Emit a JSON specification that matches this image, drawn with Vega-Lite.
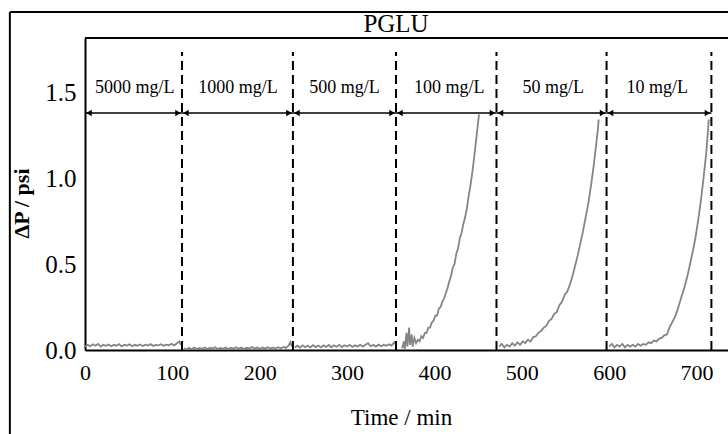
{
  "$schema": "https://vega.github.io/schema/vega-lite/v6.json",
  "width": 643,
  "height": 312,
  "autosize": "none",
  "padding": {"left": 85, "top": 38, "right": 0, "bottom": 84},
  "background": "white",
  "config": {
    "view": {"stroke": null},
    "font": "Liberation Serif",
    "axisX": {"domainColor": "black", "domainWidth": 2, "ticks": false, "grid": false, "labelFont": "Liberation Serif", "labelFontSize": 22, "labelColor": "black", "labelPadding": 12, "labelFlush": false, "titleFont": "Liberation Serif", "titleFontSize": 23, "titleFontWeight": "normal", "titleColor": "black", "titleX": 316, "titleY": 74, "titleBaseline": "alphabetic", "titleAnchor": null},
    "axisY": {"domainColor": "black", "domainWidth": 2, "ticks": false, "grid": false, "labelFont": "Liberation Serif", "labelFontSize": 25, "labelColor": "black", "labelPadding": 9, "labelFlush": false, "titleFont": "Liberation Serif", "titleFontSize": 22, "titleFontWeight": "bold", "titleColor": "black", "titleX": -57, "titleY": 165, "titleAngle": 270, "titleAlign": "center", "titleBaseline": "alphabetic"}
  },
  "datasets": {
    "trace": [
      {"s":1,"t":0,"p":0.02},{"s":1,"t":3,"p":0.03},{"s":1,"t":6,"p":0.022},{"s":1,"t":9,"p":0.033},{"s":1,"t":12,"p":0.025},{"s":1,"t":15,"p":0.035},{"s":1,"t":18,"p":0.02},{"s":1,"t":21,"p":0.03},{"s":1,"t":24,"p":0.024},{"s":1,"t":27,"p":0.032},{"s":1,"t":30,"p":0.022},{"s":1,"t":33,"p":0.03},{"s":1,"t":36,"p":0.025},{"s":1,"t":39,"p":0.034},{"s":1,"t":42,"p":0.021},{"s":1,"t":45,"p":0.03},{"s":1,"t":48,"p":0.026},{"s":1,"t":51,"p":0.033},{"s":1,"t":54,"p":0.022},{"s":1,"t":57,"p":0.03},{"s":1,"t":60,"p":0.025},{"s":1,"t":63,"p":0.032},{"s":1,"t":66,"p":0.023},{"s":1,"t":69,"p":0.031},{"s":1,"t":72,"p":0.026},{"s":1,"t":75,"p":0.034},{"s":1,"t":78,"p":0.024},{"s":1,"t":81,"p":0.03},{"s":1,"t":84,"p":0.027},{"s":1,"t":87,"p":0.034},{"s":1,"t":90,"p":0.025},{"s":1,"t":93,"p":0.031},{"s":1,"t":96,"p":0.028},{"s":1,"t":99,"p":0.036},{"s":1,"t":102,"p":0.027},{"s":1,"t":105,"p":0.038},{"s":1,"t":108,"p":0.05},{"s":1,"t":110,"p":0.03},
      {"s":2,"t":113,"p":0.01},{"s":2,"t":116,"p":0.004},{"s":2,"t":119,"p":0.012},{"s":2,"t":122,"p":0.006},{"s":2,"t":125,"p":0.014},{"s":2,"t":128,"p":0.005},{"s":2,"t":131,"p":0.012},{"s":2,"t":134,"p":0.007},{"s":2,"t":137,"p":0.015},{"s":2,"t":140,"p":0.006},{"s":2,"t":143,"p":0.013},{"s":2,"t":146,"p":0.008},{"s":2,"t":149,"p":0.016},{"s":2,"t":152,"p":0.006},{"s":2,"t":155,"p":0.012},{"s":2,"t":158,"p":0.007},{"s":2,"t":161,"p":0.015},{"s":2,"t":164,"p":0.006},{"s":2,"t":167,"p":0.013},{"s":2,"t":170,"p":0.008},{"s":2,"t":173,"p":0.016},{"s":2,"t":176,"p":0.007},{"s":2,"t":179,"p":0.014},{"s":2,"t":182,"p":0.006},{"s":2,"t":185,"p":0.013},{"s":2,"t":188,"p":0.009},{"s":2,"t":191,"p":0.017},{"s":2,"t":194,"p":0.008},{"s":2,"t":197,"p":0.014},{"s":2,"t":200,"p":0.007},{"s":2,"t":203,"p":0.015},{"s":2,"t":206,"p":0.008},{"s":2,"t":209,"p":0.016},{"s":2,"t":212,"p":0.009},{"s":2,"t":215,"p":0.014},{"s":2,"t":218,"p":0.008},{"s":2,"t":221,"p":0.016},{"s":2,"t":224,"p":0.01},{"s":2,"t":227,"p":0.018},{"s":2,"t":230,"p":0.012},{"s":2,"t":233,"p":0.025},{"s":2,"t":235,"p":0.045},{"s":2,"t":237,"p":0.02},
      {"s":3,"t":240,"p":0.015},{"s":3,"t":243,"p":0.025},{"s":3,"t":246,"p":0.014},{"s":3,"t":249,"p":0.027},{"s":3,"t":252,"p":0.016},{"s":3,"t":255,"p":0.026},{"s":3,"t":258,"p":0.015},{"s":3,"t":261,"p":0.028},{"s":3,"t":264,"p":0.017},{"s":3,"t":267,"p":0.026},{"s":3,"t":270,"p":0.015},{"s":3,"t":273,"p":0.027},{"s":3,"t":276,"p":0.018},{"s":3,"t":279,"p":0.029},{"s":3,"t":282,"p":0.016},{"s":3,"t":285,"p":0.027},{"s":3,"t":288,"p":0.019},{"s":3,"t":291,"p":0.03},{"s":3,"t":294,"p":0.017},{"s":3,"t":297,"p":0.028},{"s":3,"t":300,"p":0.02},{"s":3,"t":303,"p":0.03},{"s":3,"t":306,"p":0.018},{"s":3,"t":309,"p":0.027},{"s":3,"t":312,"p":0.021},{"s":3,"t":315,"p":0.03},{"s":3,"t":318,"p":0.02},{"s":3,"t":321,"p":0.031},{"s":3,"t":324,"p":0.04},{"s":3,"t":327,"p":0.022},{"s":3,"t":330,"p":0.03},{"s":3,"t":333,"p":0.02},{"s":3,"t":336,"p":0.031},{"s":3,"t":339,"p":0.022},{"s":3,"t":342,"p":0.03},{"s":3,"t":345,"p":0.024},{"s":3,"t":348,"p":0.033},{"s":3,"t":351,"p":0.026},{"s":3,"t":354,"p":0.045},{"s":3,"t":356,"p":0.03},
      {"s":4,"t":363,"p":0.01},{"s":4,"t":365,"p":0.05},{"s":4,"t":366,"p":0.0},{"s":4,"t":368,"p":0.1},{"s":4,"t":369,"p":0.02},{"s":4,"t":371,"p":0.13},{"s":4,"t":372,"p":0.03},{"s":4,"t":374,"p":0.09},{"s":4,"t":375,"p":0.02},{"s":4,"t":377,"p":0.07},{"s":4,"t":379,"p":0.04},{"s":4,"t":381,"p":0.06},{"s":4,"t":383,"p":0.05},{"s":4,"t":385,"p":0.08},{"s":4,"t":387,"p":0.07},{"s":4,"t":389,"p":0.1},{"s":4,"t":391,"p":0.1},{"s":4,"t":393,"p":0.13},{"s":4,"t":395,"p":0.13},{"s":4,"t":397,"p":0.16},{"s":4,"t":399,"p":0.17},{"s":4,"t":401,"p":0.2},{"s":4,"t":403,"p":0.2},{"s":4,"t":405,"p":0.24},{"s":4,"t":407,"p":0.25},{"s":4,"t":409,"p":0.28},{"s":4,"t":411,"p":0.3},{"s":4,"t":413,"p":0.33},{"s":4,"t":415,"p":0.36},{"s":4,"t":417,"p":0.4},{"s":4,"t":419,"p":0.43},{"s":4,"t":421,"p":0.48},{"s":4,"t":423,"p":0.5},{"s":4,"t":425,"p":0.56},{"s":4,"t":427,"p":0.59},{"s":4,"t":429,"p":0.65},{"s":4,"t":431,"p":0.68},{"s":4,"t":433,"p":0.73},{"s":4,"t":435,"p":0.77},{"s":4,"t":437,"p":0.82},{"s":4,"t":439,"p":0.89},{"s":4,"t":441,"p":0.95},{"s":4,"t":443,"p":1.02},{"s":4,"t":445,"p":1.1},{"s":4,"t":447,"p":1.19},{"s":4,"t":449,"p":1.28},{"s":4,"t":451,"p":1.37},
      {"s":5,"t":474,"p":0.02},{"s":5,"t":477,"p":0.035},{"s":5,"t":480,"p":0.015},{"s":5,"t":483,"p":0.03},{"s":5,"t":486,"p":0.02},{"s":5,"t":489,"p":0.04},{"s":5,"t":492,"p":0.025},{"s":5,"t":495,"p":0.045},{"s":5,"t":498,"p":0.03},{"s":5,"t":501,"p":0.05},{"s":5,"t":504,"p":0.04},{"s":5,"t":507,"p":0.06},{"s":5,"t":510,"p":0.05},{"s":5,"t":513,"p":0.075},{"s":5,"t":516,"p":0.08},{"s":5,"t":519,"p":0.1},{"s":5,"t":522,"p":0.11},{"s":5,"t":525,"p":0.13},{"s":5,"t":528,"p":0.14},{"s":5,"t":531,"p":0.17},{"s":5,"t":534,"p":0.18},{"s":5,"t":537,"p":0.21},{"s":5,"t":540,"p":0.22},{"s":5,"t":543,"p":0.26},{"s":5,"t":546,"p":0.28},{"s":5,"t":549,"p":0.32},{"s":5,"t":552,"p":0.34},{"s":5,"t":555,"p":0.38},{"s":5,"t":558,"p":0.43},{"s":5,"t":561,"p":0.49},{"s":5,"t":564,"p":0.55},{"s":5,"t":567,"p":0.62},{"s":5,"t":570,"p":0.69},{"s":5,"t":573,"p":0.77},{"s":5,"t":576,"p":0.85},{"s":5,"t":579,"p":0.95},{"s":5,"t":582,"p":1.06},{"s":5,"t":585,"p":1.19},{"s":5,"t":587,"p":1.28},{"s":5,"t":588,"p":1.34},
      {"s":6,"t":600,"p":0.02},{"s":6,"t":603,"p":0.035},{"s":6,"t":606,"p":0.015},{"s":6,"t":609,"p":0.03},{"s":6,"t":612,"p":0.02},{"s":6,"t":615,"p":0.035},{"s":6,"t":618,"p":0.015},{"s":6,"t":621,"p":0.03},{"s":6,"t":624,"p":0.02},{"s":6,"t":627,"p":0.03},{"s":6,"t":630,"p":0.02},{"s":6,"t":633,"p":0.035},{"s":6,"t":636,"p":0.025},{"s":6,"t":639,"p":0.035},{"s":6,"t":642,"p":0.03},{"s":6,"t":645,"p":0.045},{"s":6,"t":648,"p":0.04},{"s":6,"t":651,"p":0.055},{"s":6,"t":654,"p":0.05},{"s":6,"t":657,"p":0.065},{"s":6,"t":660,"p":0.07},{"s":6,"t":663,"p":0.085},{"s":6,"t":666,"p":0.09},{"s":6,"t":669,"p":0.13},{"s":6,"t":672,"p":0.16},{"s":6,"t":675,"p":0.19},{"s":6,"t":678,"p":0.23},{"s":6,"t":681,"p":0.28},{"s":6,"t":684,"p":0.33},{"s":6,"t":687,"p":0.38},{"s":6,"t":690,"p":0.44},{"s":6,"t":693,"p":0.51},{"s":6,"t":696,"p":0.58},{"s":6,"t":699,"p":0.66},{"s":6,"t":702,"p":0.76},{"s":6,"t":705,"p":0.87},{"s":6,"t":708,"p":1.0},{"s":6,"t":711,"p":1.14},{"s":6,"t":713,"p":1.27},{"s":6,"t":714,"p":1.34}
    ],
    "bounds": [{"t":111},{"t":238},{"t":356},{"t":471},{"t":597},{"t":717}],
    "seg": [
      {"label":"5000 mg/L","start":0,"end":111,"mid":57},
      {"label":"1000 mg/L","start":111,"end":238,"mid":175},
      {"label":"500 mg/L","start":238,"end":356,"mid":297},
      {"label":"100 mg/L","start":356,"end":471,"mid":417},
      {"label":"50 mg/L","start":471,"end":597,"mid":536},
      {"label":"10 mg/L","start":597,"end":717,"mid":655}
    ],
    "header": [{"name": "PGLU"}]
  },
  "layer": [
    {
      "data": {"name": "trace"},
      "mark": {"type": "line", "color": "#858585", "strokeWidth": 1.8},
      "encoding": {
        "x": {"field": "t", "type": "quantitative", "title": "Time / min", "scale": {"domain": [0, 736], "nice": false, "zero": false}, "axis": {"values": [0, 100, 200, 300, 400, 500, 600, 700]}},
        "y": {"field": "p", "type": "quantitative", "title": "ΔP / psi", "scale": {"domain": [0, 1.814], "nice": false, "zero": false}, "axis": {"values": [0, 0.5, 1, 1.5], "format": ".1f"}},
        "detail": {"field": "s", "type": "nominal"}
      }
    },
    {
      "data": {"name": "bounds"},
      "mark": {"type": "rule", "color": "black", "strokeWidth": 2, "strokeDash": [9, 5]},
      "encoding": {
        "x": {"field": "t", "type": "quantitative", "title": "Time / min"},
        "y": {"datum": 0},
        "y2": {"datum": 1.733}
      }
    },
    {
      "data": {"name": "seg"},
      "mark": {"type": "rule", "color": "black", "strokeWidth": 1.6},
      "encoding": {
        "x": {"field": "start", "type": "quantitative", "title": "Time / min"},
        "x2": {"field": "end"},
        "y": {"datum": 1.378}
      }
    },
    {
      "data": {"name": "seg"},
      "mark": {"type": "point", "shape": "triangle-left", "filled": true, "color": "black", "size": 40, "opacity": 1, "xOffset": 4},
      "encoding": {
        "x": {"field": "start", "type": "quantitative", "title": "Time / min"},
        "y": {"datum": 1.378}
      }
    },
    {
      "data": {"name": "seg"},
      "mark": {"type": "point", "shape": "triangle-right", "filled": true, "color": "black", "size": 40, "opacity": 1, "xOffset": -4},
      "encoding": {
        "x": {"field": "end", "type": "quantitative", "title": "Time / min"},
        "y": {"datum": 1.378}
      }
    },
    {
      "data": {"name": "seg"},
      "mark": {"type": "text", "font": "Liberation Serif", "fontSize": 18, "color": "black", "baseline": "alphabetic", "align": "center"},
      "encoding": {
        "x": {"field": "mid", "type": "quantitative", "title": "Time / min"},
        "y": {"datum": 1.494},
        "text": {"field": "label"}
      }
    },
    {
      "data": {"name": "header"},
      "mark": {"type": "text", "font": "Liberation Serif", "fontSize": 25, "fontWeight": "normal", "color": "black", "baseline": "alphabetic", "align": "center"},
      "encoding": {
        "x": {"datum": 356},
        "y": {"datum": 1.849},
        "text": {"field": "name"}
      }
    },
    {
      "data": {"values": [{}]},
      "mark": {"type": "rule", "color": "black", "strokeWidth": 2},
      "encoding": {
        "x": {"datum": 0},
        "x2": {"datum": 740},
        "y": {"datum": 1.814}
      }
    },
    {
      "data": {"values": [{}]},
      "mark": {"type": "rule", "color": "black", "strokeWidth": 2},
      "encoding": {
        "x": {"datum": -86},
        "y": {"datum": -0.6},
        "y2": {"datum": 1.965}
      }
    },
    {
      "data": {"values": [{}]},
      "mark": {"type": "rule", "color": "black", "strokeWidth": 2},
      "encoding": {
        "x": {"datum": -86},
        "x2": {"datum": 740},
        "y": {"datum": 1.965}
      }
    }
  ]
}
